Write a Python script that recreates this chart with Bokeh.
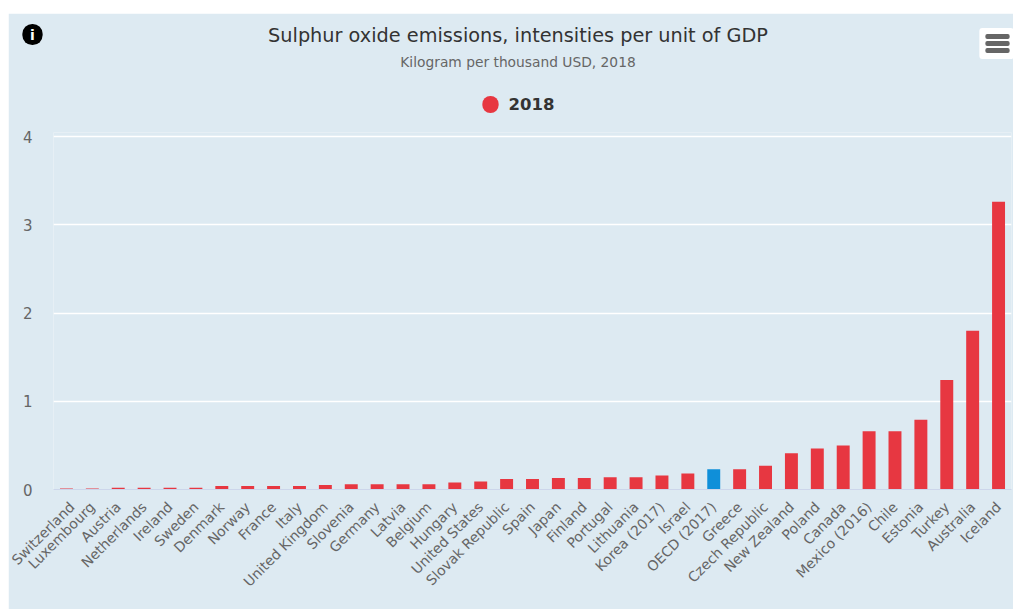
from bokeh.plotting import figure
from bokeh.embed import file_html
from bokeh.resources import INLINE
from bokeh.layouts import column, row
from math import pi
from bokeh.models import (ColumnDataSource, Range1d, Label, FixedTicker, Spacer, LinearAxis)

countries = ["Switzerland","Luxembourg","Austria","Netherlands","Ireland","Sweden","Denmark","Norway","France","Italy",
             "United Kingdom","Slovenia","Germany","Latvia","Belgium","Hungary","United States","Slovak Republic","Spain",
             "Japan","Finland","Portugal","Lithuania","Korea (2017)","Israel","OECD (2017)","Greece","Czech Republic",
             "New Zealand","Poland","Canada","Mexico (2016)","Chile","Estonia","Turkey","Australia","Iceland"]
values = [0.01,0.01,0.02,0.02,0.02,0.02,0.04,0.04,0.04,0.04,
          0.05,0.06,0.06,0.06,0.06,0.08,0.09,0.12,0.12,
          0.13,0.13,0.14,0.14,0.16,0.18,0.23,0.23,0.27,
          0.41,0.465,0.5,0.66,0.66,0.79,1.24,1.8,3.26]
highlight = "OECD (2017)"
y_ticks = [0,1,2,3,4]
title_text = "Sulphur oxide emissions, intensities per unit of GDP"
subtitle_text = "Kilogram per thousand USD, 2018"
legend_label = "2018"

RED = "#E73741"; BLUE = "#0F8FD9"; BG = "#DDEAF2"
FONT = "DejaVu Sans"

OX, OY = 8, 13
W, H = 1005, 596
n = len(countries)
src = ColumnDataSource(dict(i=list(range(n)), c=countries, v=values,
                            col=[BLUE if c == highlight else RED for c in countries]))
p = figure(width=W, height=H, output_backend="svg", toolbar_location=None,
           x_range=Range1d(-0.5, n - 0.5),
           y_range=Range1d(0, 357/88.25),
           frame_width=958, frame_height=357,
           min_border_left=45, min_border_right=2, min_border_top=119, min_border_bottom=120,
           background_fill_color=BG, border_fill_color=BG, outline_line_color=None,
           x_axis_location=None)
p.vbar(x="i", top="v", width=0.5, color="col", source=src, line_color=None)

p.xgrid.grid_line_color = None
p.ygrid.grid_line_color = "#FFFFFF"
p.ygrid.grid_line_width = 1.5
p.yaxis.ticker = FixedTicker(ticks=y_ticks)
p.yaxis.axis_line_color = None
p.yaxis.major_tick_line_color = None
p.yaxis.minor_tick_line_color = None
p.yaxis.major_label_text_font = FONT
p.yaxis.major_label_text_font_size = "15px"
p.yaxis.major_label_text_color = "#666666"
p.yaxis.major_label_standoff = 15

xax = LinearAxis(ticker=FixedTicker(ticks=list(range(n))),
                 major_label_overrides={i: c for i, c in enumerate(countries)},
                 axis_line_color="#CCD6EB", major_tick_line_color=None, minor_tick_line_color=None,
                 major_label_orientation=pi/4, major_label_text_font=FONT,
                 major_label_text_font_size="14px", major_label_text_color="#666666",
                 major_label_standoff=9)
p.add_layout(xax, "below")

def text(x, y, s, size, color, style="normal", align="center", side="above", **kw):
    p.add_layout(Label(x=x-OX, y=y-OY, x_units="canvas", y_units="canvas", text=s,
                       text_font=FONT, text_font_size=size, text_color=color, text_font_style=style,
                       text_align=align, text_baseline="middle", **kw), side)

def box(cx, cy, w, h, color, radius):
    # a blank label with a filled, rounded background; kept out of the top panel so
    # that its height does not push the plot frame down
    text(cx, cy, " ", "1px", color, side="below", background_fill_color=color, background_fill_alpha=1,
         padding=dict(x=w//2, y=h//2), border_radius=radius)

text(517.5, 35, title_text, "19.3px", "#333333")
text(517.5, 61, subtitle_text, "13.8px", "#666666")

box(490, 104, 16, 16, RED, 8)
text(508, 103.5, legend_label, "16.5px", "#333333", style="bold", align="left")

box(32, 34, 20, 20, "#000000", 10)
text(32, 34, "i", "14px", "#FFFFFF", style="bold", side="below")

box(996, 43, 34, 30, "#FFFFFF", 3)
for cy in (36, 43, 50):
    box(997, cy, 24, 4, "#666666", 2)

page = row(Spacer(width=OX, height=H), column(Spacer(width=W, height=OY), p, spacing=0), spacing=0)
open("out.html", "w").write(file_html(page, INLINE))
